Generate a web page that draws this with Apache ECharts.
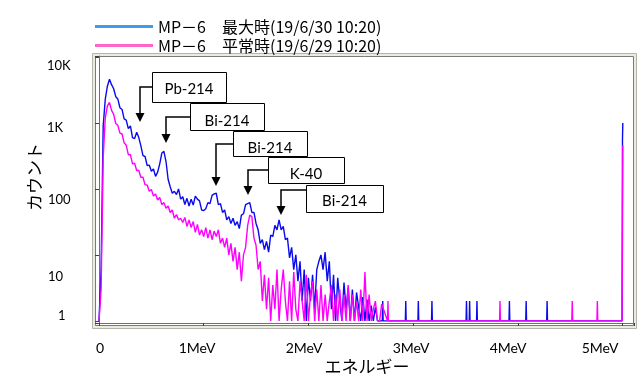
<!DOCTYPE html>
<html>
<head>
<meta charset="utf-8">
<script src="https://cdn.jsdelivr.net/npm/echarts@6/dist/echarts.min.js"></script>
<style>
  html, body { margin: 0; padding: 0; background: #fff; }
  #chart { width: 638px; height: 376px; }
</style>
</head>
<body>
<div id="chart"></div>
<script>
// spectrum channels, MeV per step
const STEP = 0.02;

// MP-6 最大時, counts per channel from 0 MeV
const blueMain = [
  1, 6, 900, 2300, 3600, 4600, 3800, 3300, 2500, 2300,
  1700, 1600, 1150, 1100, 820, 900, 600, 580, 720, 600,
  450, 320, 310, 225, 230, 185, 200, 155, 180, 240,
  350, 370, 260, 140, 108, 86, 92, 82, 100, 70,
  76, 58, 72, 55, 70, 57, 78, 70, 66, 48,
  47, 50, 62, 60, 80, 84, 86, 58, 60, 44,
  48, 34, 38, 30, 36, 28, 32, 25, 40, 42,
  58, 60, 62, 44, 44, 30, 24, 15, 17, 12,
  16, 11, 20, 19, 28, 24, 34, 24, 27, 17,
  18, 9, 13, 6, 10, 4, 8, 2, 6, 1,
  4.5, 2, 5, 1.5, 6, 8, 10, 6, 11, 4,
  8, 1.5, 5, 1, 4.5, 2, 1, 3.8, 1.5, 3.2,
  1, 3, 1, 2.7, 1.6, 1, 2.3, 1, 2.1, 1,
  1.7, 1, 1.6, 1, 1
];

// MP-6 平常時
const pinkMain = [
  1, 3, 300, 1200, 1800, 2050, 1550, 1350, 980, 920,
  700, 680, 500, 460, 330, 330, 240, 245, 190, 190,
  150, 150, 115, 115, 92, 98, 78, 84, 68, 74,
  58, 62, 51, 55, 44, 48, 36, 41, 34, 36,
  31, 37, 27, 34, 26, 32, 22, 29, 20, 24,
  19, 26, 18, 24, 17, 23, 19, 24, 15, 18,
  13, 18, 10, 15, 8, 13, 6, 11, 4, 10,
  13, 28, 40, 38, 18, 14, 6, 8, 2, 5,
  1.5, 4.5, 1, 3.5, 1.5, 6, 1, 3, 6, 2,
  1, 4, 1, 5.5, 1.5, 1, 4, 2, 1, 5,
  1, 2.5, 4, 1, 3, 1, 3.5, 1, 2.5, 1,
  2, 3.5, 1, 2.5, 1, 3, 1, 2.5, 1, 3.5,
  1, 2.5, 1, 2, 1, 3, 1, 5.5, 1, 2.5,
  1, 1.5, 2, 1, 1, 1.8
];

// single events above 2.7 MeV
const blueSpikeE = [2.71, 2.93, 3.05, 3.18, 3.51, 3.54, 3.61, 3.92, 4.08, 4.28];
const blueSpikeN = [2, 2, 2, 2, 2, 2, 2, 2, 2, 2];
const pinkSpikeE = [2.76, 3.83, 4.52, 4.76];
const pinkSpikeN = [2, 2, 2, 2];

// overflow channel at the end
const END_E = 5.0;
const blueEnd = [550, 1000];
const pinkEnd = [21, 460];

const seriesNames = ['MP－6　最大時(19/6/30 10:20)', 'MP－6　平常時(19/6/29 10:20)'];
const yTickLabels = ['10K', '1K', '100', '10', '1'];
const xTickLabels = ['0', '1MeV', '2MeV', '3MeV', '4MeV', '5MeV'];
const peakNames = ['Pb-214', 'Bi-214', 'Bi-214', 'K-40', 'Bi-214'];

function buildSpectrum(main, spikeE, spikeN, end) {
  const d = main.map((v, i) => [+(i * STEP).toFixed(2), v]);
  spikeE.forEach((e, i) => {
    d.push([e - 0.004, 1], [e, spikeN[i]], [e + 0.004, 1]);
  });
  d.push([END_E - 0.004, 1], [END_E, end[0]], [END_E + 0.003, end[1]]);
  return d;
}

const latin = 'Lato, "Noto Sans", sans-serif';
const cjk = '"Noto Sans CJK JP", sans-serif';

// label boxes + arrows (pixel layout)
const boxes = [[152, 72, 74, 30], [190, 103, 74, 27], [233, 131, 74, 25], [268, 157, 76, 26], [306, 185, 77, 27]];
const elbows = [[87, 140, 122], [117, 166, 143], [144, 216, 186], [170, 248, 195], [190, 281, 215]];
const textY = [89, 121, 148, 174, 201];

const graphic = [
  { type: 'rect', z: -10, shape: { x: 92.5, y: 53.5, width: 544, height: 275 },
    style: { fill: '#ecebe1', stroke: '#b4b4aa', lineWidth: 1 } },
  { type: 'rect', z: -9, shape: { x: 95.5, y: 56.5, width: 538, height: 269 },
    style: { fill: '#fff', stroke: '#7a7a7a', lineWidth: 1 } }
];

peakNames.forEach((name, i) => {
  const [bx, by, bw, bh] = boxes[i];
  const [ey, ax, ty] = elbows[i];
  graphic.push({ type: 'polyline', z: 100,
    shape: { points: [[bx, ey], [ax, ey], [ax, ty - 8]] },
    style: { stroke: '#000', lineWidth: 1.5, fill: null } });
  graphic.push({ type: 'polygon', z: 100,
    shape: { points: [[ax - 4.5, ty - 9], [ax + 4.5, ty - 9], [ax, ty]] },
    style: { fill: '#000' } });
  graphic.push({ type: 'rect', z: 100,
    shape: { x: bx + 0.5, y: by + 0.5, width: bw, height: bh },
    style: { fill: '#fff', stroke: '#000', lineWidth: 1 } });
  graphic.push({ type: 'text', z: 101, x: bx + bw / 2, y: textY[i],
    style: { text: name, font: '15px ' + latin, fill: '#000', align: 'center', verticalAlign: 'middle' } });
});

const yLabelPos = [[47, 66], [47, 128], [48, 200], [48, 277], [58, 316]];
yTickLabels.forEach((t, i) => {
  graphic.push({ type: 'text', x: yLabelPos[i][0], y: yLabelPos[i][1],
    style: { text: t, font: '13px ' + latin, fill: '#000', align: 'left', verticalAlign: 'middle' } });
});
const xLabelPos = [100, 197, 304, 411, 508, 600];
xTickLabels.forEach((t, i) => {
  graphic.push({ type: 'text', x: xLabelPos[i], y: 348,
    style: { text: t, font: '14px ' + latin, fill: '#000', align: 'center', verticalAlign: 'middle' } });
});
graphic.push({ type: 'text', x: 367, y: 367,
  style: { text: 'エネルギー', font: '17px ' + cjk, fill: '#000', align: 'center', verticalAlign: 'middle' } });
graphic.push({ type: 'text', x: 35, y: 177, rotation: Math.PI / 2,
  style: { text: 'カウント', font: '17px ' + cjk, fill: '#000', align: 'center', verticalAlign: 'middle' } });

const chart = echarts.init(document.getElementById('chart'));
chart.setOption({
  animation: false,
  backgroundColor: '#fff',
  legend: {
    orient: 'vertical',
    left: 90,
    top: 13,
    icon: 'rect',
    itemWidth: 58,
    itemHeight: 3,
    itemGap: 2,
    textStyle: { fontFamily: cjk, fontSize: 16, color: '#000', lineHeight: 17 },
    data: [
      { name: seriesNames[0], itemStyle: { color: '#3d9bf0' } },
      { name: seriesNames[1], itemStyle: { color: '#ff66cc' } }
    ]
  },
  grid: { left: 99, right: 4, top: 56, bottom: 53 },
  xAxis: {
    type: 'value',
    min: 0,
    max: 5.11,
    interval: 1,
    axisLine: { lineStyle: { color: '#707070' } },
    axisTick: { length: 3, lineStyle: { color: '#404040' } },
    axisLabel: { show: false },
    splitLine: { show: false }
  },
  yAxis: {
    type: 'log',
    logBase: 10,
    min: 0.93,
    max: 10330,
    axisLine: { show: true, lineStyle: { color: '#707070' } },
    axisTick: { show: true, length: 4, lineStyle: { color: '#404040' } },
    axisLabel: { show: false },
    splitLine: { show: false }
  },
  series: [
    {
      name: seriesNames[0],
      type: 'line',
      symbol: 'none',
      z: 2,
      lineStyle: { color: '#0a0aee', width: 1.4 },
      itemStyle: { color: '#0a0aee' },
      data: buildSpectrum(blueMain, blueSpikeE, blueSpikeN, blueEnd)
    },
    {
      name: seriesNames[1],
      type: 'line',
      symbol: 'none',
      z: 3,
      lineStyle: { color: '#ff00ff', width: 1.4 },
      itemStyle: { color: '#ff00ff' },
      data: buildSpectrum(pinkMain, pinkSpikeE, pinkSpikeN, pinkEnd)
    }
  ],
  graphic: graphic
});
</script>
</body>
</html>
